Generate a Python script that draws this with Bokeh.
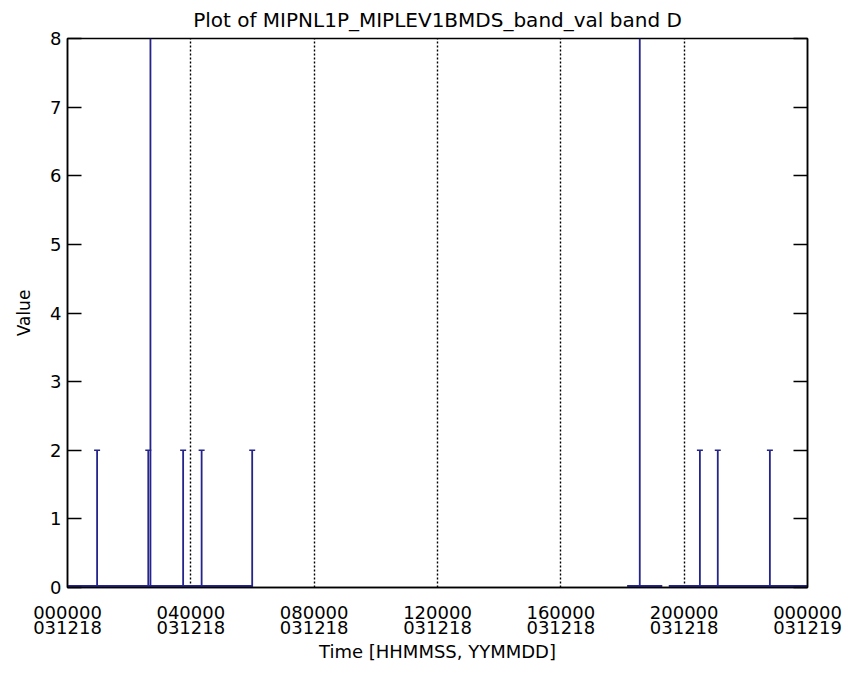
from bokeh.plotting import figure
from bokeh.models import Range1d, LinearAxis, FixedTicker
from bokeh.embed import file_html
from bokeh.resources import INLINE

# ---- data (time in hours after 000000 031218) ----
seg_start = [0.0, 18.15, 19.50]
seg_end = [6.00, 19.29, 24.0]

spike_time = [0.96, 2.62, 2.69, 3.75, 4.35, 5.99, 18.56, 20.51, 21.09, 22.78]
spike_value = [2, 2, 8, 2, 2, 2, 8, 2, 2, 2]

x_tick_hours = [0, 4, 8, 12, 16, 20, 24]
x_tick_time = ["000000", "040000", "080000", "120000", "160000", "200000", "000000"]
x_tick_date = ["031218", "031218", "031218", "031218", "031218", "031218", "031219"]
y_ticks = [0, 1, 2, 3, 4, 5, 6, 7, 8]

title_text = "Plot of MIPNL1P_MIPLEV1BMDS_band_val band D"
x_label = "Time [HHMMSS, YYMMDD]"
y_label = "Value"

FONT = "DejaVu Sans"
BLUE = "#24248a"

p = figure(width=849, height=667, output_backend="svg", toolbar_location=None,
           x_range=Range1d(0, 24), y_range=Range1d(0, 8),
           min_border_left=67, min_border_right=42, min_border_top=38, min_border_bottom=80)

p.title.text = title_text
p.title.align = "center"
p.title.vertical_align = "top"
p.title.text_font = FONT
p.title.text_font_size = "20px"
p.title.text_font_style = "normal"
p.title.text_color = "black"
p.title.offset = 0
p.title.standoff = 10

p.outline_line_color = "black"
p.outline_line_width = 1.5
p.background_fill_color = "white"
p.border_fill_color = "white"

# axes
xa = p.xaxis[0]
xa.ticker = FixedTicker(ticks=x_tick_hours)
xa.major_label_overrides = {h: f"{t}\n{d}" for h, t, d in zip(x_tick_hours, x_tick_time, x_tick_date)}
xa.major_tick_in = 0
xa.major_tick_out = 0
xa.minor_tick_in = 0
xa.minor_tick_out = 0
xa.axis_line_color = "black"
xa.axis_line_width = 1.5
xa.major_label_text_font = FONT
xa.major_label_text_font_size = "18px"
xa.major_label_text_color = "black"
xa.major_label_text_line_height = 0.74
xa.major_label_standoff = 14
xa.axis_label = x_label
xa.axis_label_text_font = FONT
xa.axis_label_text_font_size = "18px"
xa.axis_label_text_font_style = "normal"
xa.axis_label_text_color = "black"
xa.axis_label_standoff = 0

ya = p.yaxis[0]
ya.ticker = FixedTicker(ticks=y_ticks)
ya.major_tick_in = 14
ya.major_tick_out = 0
ya.minor_tick_in = 0
ya.minor_tick_out = 0
ya.axis_line_color = "black"
ya.axis_line_width = 1.5
ya.major_tick_line_width = 1.5
ya.major_label_text_font = FONT
ya.major_label_text_font_size = "18px"
ya.major_label_text_color = "black"
ya.major_label_standoff = 6
ya.axis_label = y_label
ya.axis_label_text_font = FONT
ya.axis_label_text_font_size = "17px"
ya.axis_label_text_font_style = "normal"
ya.axis_label_text_color = "black"
ya.axis_label_standoff = 13

ra = LinearAxis(ticker=FixedTicker(ticks=y_ticks), major_tick_in=14, major_tick_out=0,
                minor_tick_in=0, minor_tick_out=0,
                major_label_overrides={t: "" for t in y_ticks},
                major_tick_line_width=1.5, axis_line_width=1.5)
p.add_layout(ra, "right")

# grid: dotted vertical lines at x ticks
p.xgrid.grid_line_color = "black"
p.xgrid.grid_line_dash = "2 2"
p.xgrid.grid_line_width = 1.4
p.ygrid.grid_line_color = None

# data
p.segment(x0=seg_start, y0=[0] * len(seg_start), x1=seg_end, y1=[0] * len(seg_end),
          line_color=BLUE, line_width=5)
p.segment(x0=spike_time, y0=[0] * len(spike_time), x1=spike_time, y1=spike_value,
          line_color=BLUE, line_width=1.8)
cap_t = [t for t, v in zip(spike_time, spike_value) if v < 8]
cap_v = [v for v in spike_value if v < 8]
p.scatter(x=cap_t, y=cap_v, marker="dash", size=6, line_color=BLUE, line_width=1.5)

open("out.html", "w").write(file_html(p, INLINE))
